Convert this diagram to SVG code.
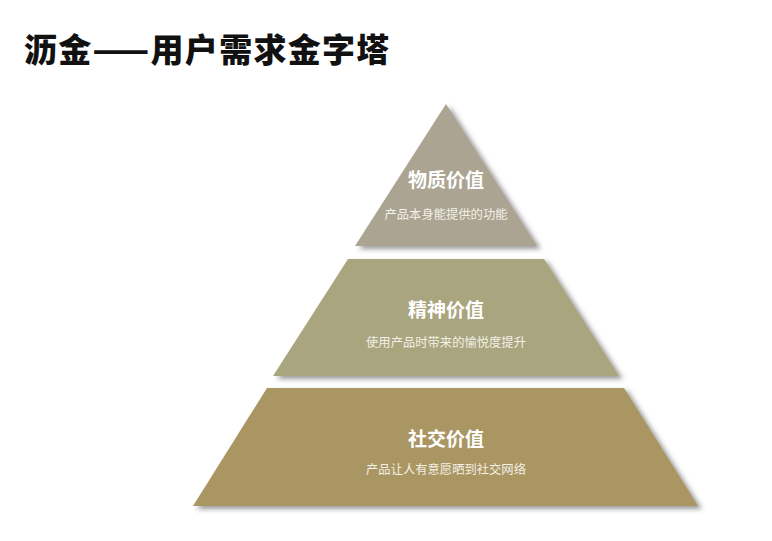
<svg xmlns="http://www.w3.org/2000/svg" width="772" height="541" viewBox="0 0 772 541">
<defs>
<filter id="sh" x="-10%" y="-10%" width="125%" height="125%">
<feDropShadow dx="4" dy="3" stdDeviation="2.5" flood-color="#4a4a4a" flood-opacity="0.55"/>
</filter>
<style>
.t{font-family:"Noto Sans CJK SC","Noto Sans",sans-serif;}
.h{font-size:19px;font-weight:bold;fill:#ffffff;text-anchor:middle;}
.s{font-size:12.3px;fill:#f3f0e6;text-anchor:middle;}
.title{font-size:33px;font-weight:900;fill:#111111;letter-spacing:1.3px;}
</style>
</defs>
<rect width="772" height="541" fill="#ffffff"/>
<text class="t title" x="24" y="62">沥金——用户需求金字塔</text>
<g id="tier-top">
<polygon points="446,104 537,246 355,246" fill="#aca493" filter="url(#sh)"/>
<text class="t h" x="446" y="187">物质价值</text>
<text class="t s" x="446" y="219">产品本身能提供的功能</text>
</g>
<g id="tier-middle">
<polygon points="348,259 544,259 619,376 273,376" fill="#a9a57f" filter="url(#sh)"/>
<text class="t h" x="446" y="317">精神价值</text>
<text class="t s" x="446" y="347">使用产品时带来的愉悦度提升</text>
</g>
<g id="tier-bottom">
<polygon points="267,388 624,388 698,506 193,506" fill="#aa9662" filter="url(#sh)"/>
<text class="t h" x="446" y="446">社交价值</text>
<text class="t s" x="446" y="474">产品让人有意愿晒到社交网络</text>
</g>
<g id="connectors"/>
</svg>
